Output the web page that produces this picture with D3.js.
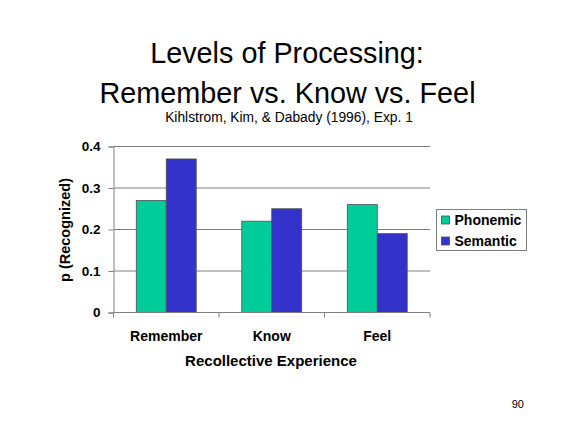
<!DOCTYPE html>
<html><head><meta charset="utf-8">
<script src="https://cdn.jsdelivr.net/npm/d3@7"></script>
<style>
body{margin:0;background:#fff;}
svg{display:block;font-family:Arial,"Liberation Sans",sans-serif;}
</style></head>
<body>
<svg id="c" width="576" height="432"></svg>
<script>
const categories = ["Remember", "Know", "Feel"];
const seriesNames = ["Phonemic", "Semantic"];
const phonemic = [0.27, 0.22, 0.26];
const semantic = [0.37, 0.25, 0.19];
const yTicks = [0, 0.1, 0.2, 0.3, 0.4];
const yTickLabels = ["0", "0.1", "0.2", "0.3", "0.4"];
const colors = ["#00CC99", "#3333CC"];

const svg = d3.select("#c");
const L = 113.5, R = 430, T = 146.5, B = 312.5;

const values = [phonemic, semantic];
const rows = categories.map((c, i) => ({cat: c, vals: seriesNames.map((s, j) => ({s, j, v: values[j][i]}))}));

const x = d3.scaleBand().domain(categories).range([L, R]).paddingInner(0).paddingOuter(0);
const xs = d3.scaleBand().domain(seriesNames).range([0, x.bandwidth()]).paddingInner(0).paddingOuter(0.76);
const y = d3.scaleLinear().domain([0, 0.4]).range([B, T]);

// titles
svg.append("text").attr("x", 287).attr("y", 62.5).attr("text-anchor", "middle")
  .attr("font-size", 28.8).text("Levels of Processing:");
svg.append("text").attr("x", 287.5).attr("y", 102.5).attr("text-anchor", "middle")
  .attr("font-size", 28.8).text("Remember vs. Know vs. Feel");
svg.append("text").attr("x", 289).attr("y", 121.5).attr("text-anchor", "middle")
  .attr("font-size", 13.8).text("Kihlstrom, Kim, & Dabady (1996), Exp. 1");

// gridlines
svg.append("g").selectAll("line").data(yTicks.filter(t => t > 0)).join("line")
  .attr("x1", L).attr("x2", R).attr("y1", d => y(d)).attr("y2", d => y(d))
  .attr("stroke", "#808080").attr("stroke-width", 1);

// bars
const g = svg.append("g").selectAll("g").data(rows).join("g")
  .attr("transform", d => `translate(${x(d.cat)},0)`);
g.selectAll("rect").data(d => d.vals).join("rect")
  .attr("x", d => xs(d.s)).attr("width", xs.bandwidth())
  .attr("y", d => y(d.v)).attr("height", d => B - y(d.v))
  .attr("fill", d => colors[d.j]).attr("stroke", "#505050").attr("stroke-width", 0.8);

// y axis
const yAxis = d3.axisLeft(y).tickValues(yTicks).tickSize(5).tickPadding(8)
  .tickFormat((d, i) => yTickLabels[i]);
const ya = svg.append("g").attr("transform", `translate(${L},0)`).call(yAxis);
ya.select(".domain").attr("stroke", "#808080");
ya.selectAll(".tick line").attr("stroke", "#808080");
ya.selectAll("text").attr("font-size", 13.5).attr("font-weight", "bold").attr("fill", "#000")
  .attr("font-family", "Arial, 'Liberation Sans', sans-serif");

// x axis
const xa = svg.append("g").attr("transform", `translate(0,${B})`);
xa.append("line").attr("x1", L).attr("x2", R).attr("y1", 0).attr("y2", 0).attr("stroke", "#808080");
const bounds = categories.map(c => x(c)).concat([R]);
xa.selectAll("line.tk").data(bounds).join("line").attr("class", "tk")
  .attr("x1", d => d).attr("x2", d => d).attr("y1", 0).attr("y2", 5).attr("stroke", "#808080");
xa.selectAll("text").data(categories).join("text")
  .attr("x", d => x(d) + x.bandwidth() / 2).attr("y", 28).attr("text-anchor", "middle")
  .attr("font-size", 14).attr("font-weight", "bold").text(d => d);

// axis titles
svg.append("text").attr("x", 271).attr("y", 366).attr("text-anchor", "middle")
  .attr("font-size", 15).attr("font-weight", "bold").text("Recollective Experience");
svg.append("text").attr("transform", "translate(70,230) rotate(-90)").attr("text-anchor", "middle")
  .attr("font-size", 14.5).attr("font-weight", "bold").text("p (Recognized)");

// legend
const lg = svg.append("g");
lg.append("rect").attr("x", 436.5).attr("y", 209.5).attr("width", 90).attr("height", 41)
  .attr("fill", "#fff").attr("stroke", "#808080").attr("stroke-width", 1);
const li = lg.selectAll("g").data(seriesNames).join("g")
  .attr("transform", (d, i) => `translate(0,${220 + i * 21})`);
li.append("rect").attr("x", 441.5).attr("y", -4).attr("width", 8).attr("height", 8)
  .attr("fill", (d, i) => colors[i]).attr("stroke", "#505050").attr("stroke-width", 0.8);
li.append("text").attr("x", 454.5).attr("y", 5).attr("font-size", 14).attr("font-weight", "bold").text(d => d);

// page number
svg.append("text").attr("x", 524).attr("y", 408).attr("text-anchor", "end").attr("font-size", 11).text("90");
</script>
</body></html>
